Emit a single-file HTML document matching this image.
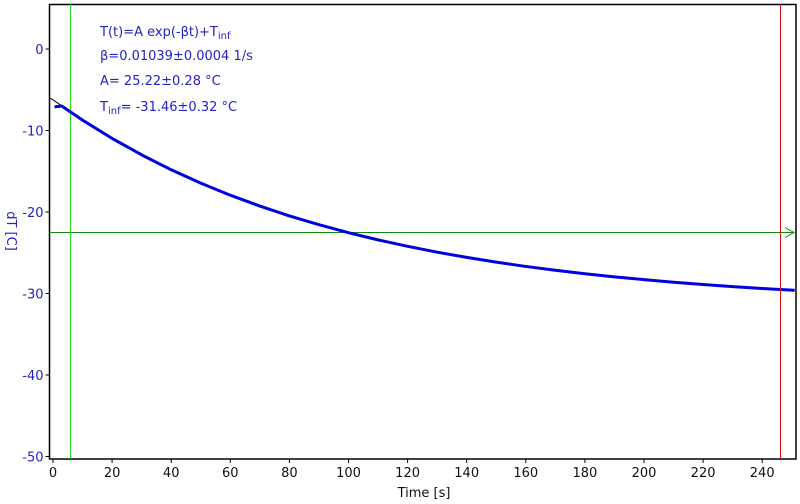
<!DOCTYPE html>
<html><head><meta charset="utf-8"><style>
body{margin:0;background:#fff;}
svg{display:block;font-family:"DejaVu Sans","Liberation Sans",sans-serif;}
</style></head><body>
<svg id="chart" width="800" height="504" viewBox="0 0 800 504">
<rect x="0" y="0" width="800" height="504" fill="#fff"/>
<g id="grid"></g>
<g id="marks"></g>
<g fill="#2323c8" font-size="13">
<text x="100" y="36">T(t)=A exp(-βt)+T<tspan font-size="10" dy="3">inf</tspan></text>
<text x="100" y="60">β=0.01039±0.0004 1/s</text>
<text x="100" y="85">A= 25.22±0.28 °C</text>
<text x="100" y="111">T<tspan font-size="10" dy="3">inf</tspan><tspan dy="-3">= -31.46±0.32 °C</tspan></text>
</g>
<text x="0" y="0" transform="translate(7,231) rotate(90)" text-anchor="middle" font-size="13" fill="#2323c8">dT [C]</text>
<text x="424" y="497" text-anchor="middle" font-size="13" fill="#111">Time [s]</text>
</svg>
<script>
const xTicks=[0,20,40,60,80,100,120,140,160,180,200,220,240];
const yTicks=[0,-10,-20,-30,-40,-50];
const dataT=[0.5,3,5,10,20,30,40,50,60,70,80,90,100,110,120,130,140,150,160,170,180,190,200,210,220,230,240,250,251];
const dataV=[-7.1,-7.0,-7.5,-8.73,-10.97,-12.99,-14.82,-16.46,-17.94,-19.27,-20.48,-21.56,-22.54,-23.42,-24.21,-24.93,-25.57,-26.15,-26.68,-27.15,-27.58,-27.96,-28.30,-28.62,-28.90,-29.15,-29.38,-29.58,-29.62];
const fitT=[-1.2,0,2,4,5.5];
const fitV=[-6.0,-6.24,-6.74,-7.22,-7.58];
const cursorT=[5.6,246];
const levelV=[-22.5];
const X0=53,XS=2.955,Y0=49,YS=8.15;
const L=49.5,R=796,T=4.5,B=459;
function sx(t){return X0+t*XS;}
function sy(v){return Y0-v*YS;}
function px(v){return Math.round(v)+0.5;}
const NS="http://www.w3.org/2000/svg";
function mk(tag,attrs,parent){const e=document.createElementNS(NS,tag);for(const k in attrs)e.setAttribute(k,attrs[k]);parent.appendChild(e);return e;}
const g=document.getElementById('grid'),m=document.getElementById('marks');
let f=mk('rect',{x:L,y:T,width:R-L,height:B-T,fill:'none',stroke:'#000','stroke-width':1.5},g);


xTicks.forEach(t=>{
 let l=mk('line',{x1:sx(t),x2:sx(t),y1:B,y2:B+4,stroke:'#000'},g);
 
 
 let tx=mk('text',{x:sx(t),y:B+18,'text-anchor':'middle','font-size':13,fill:'#111'},g);
 tx.textContent=t;
 
 
});
yTicks.forEach(v=>{
 let l=mk('line',{x1:L-4,x2:L,y1:sy(v),y2:sy(v),stroke:'#000'},g);
 
 
 let tx=mk('text',{x:L-6,y:sy(v)+5,'text-anchor':'end','font-size':13,fill:'#2323c8'},g);
 tx.textContent=v;
 
 
});
let cv=mk('line',{x1:px(sx(cursorT[0])),x2:px(sx(cursorT[0])),y1:T,y2:B,stroke:'#22dd22','stroke-width':1,'shape-rendering':'crispEdges'},m);


let ch=mk('line',{x1:L,x2:R-2,y1:px(sy(levelV[0])),y2:px(sy(levelV[0])),stroke:'#118811','stroke-width':1,'shape-rendering':'crispEdges'},m);


let ar=mk('path',{d:`M${R-11},${px(sy(levelV[0]))-5} L${R-2},${px(sy(levelV[0]))} L${R-11},${px(sy(levelV[0]))+5}`,fill:'none',stroke:'#118811'},m);


let fp=mk('polyline',{points:fitT.map((t,i)=>sx(t)+','+sy(fitV[i])).join(' '),fill:'none',stroke:'#000','stroke-width':1},m);


let dp=mk('polyline',{points:dataT.map((t,i)=>sx(t)+','+sy(dataV[i])).join(' '),fill:'none',stroke:'#0000e0','stroke-width':3,'stroke-linejoin':'round'},m);


let cr=mk('line',{x1:px(sx(cursorT[1])),x2:px(sx(cursorT[1])),y1:T,y2:B,stroke:'#dd1111','stroke-width':1,'shape-rendering':'crispEdges'},m);


</script>
</body></html>
